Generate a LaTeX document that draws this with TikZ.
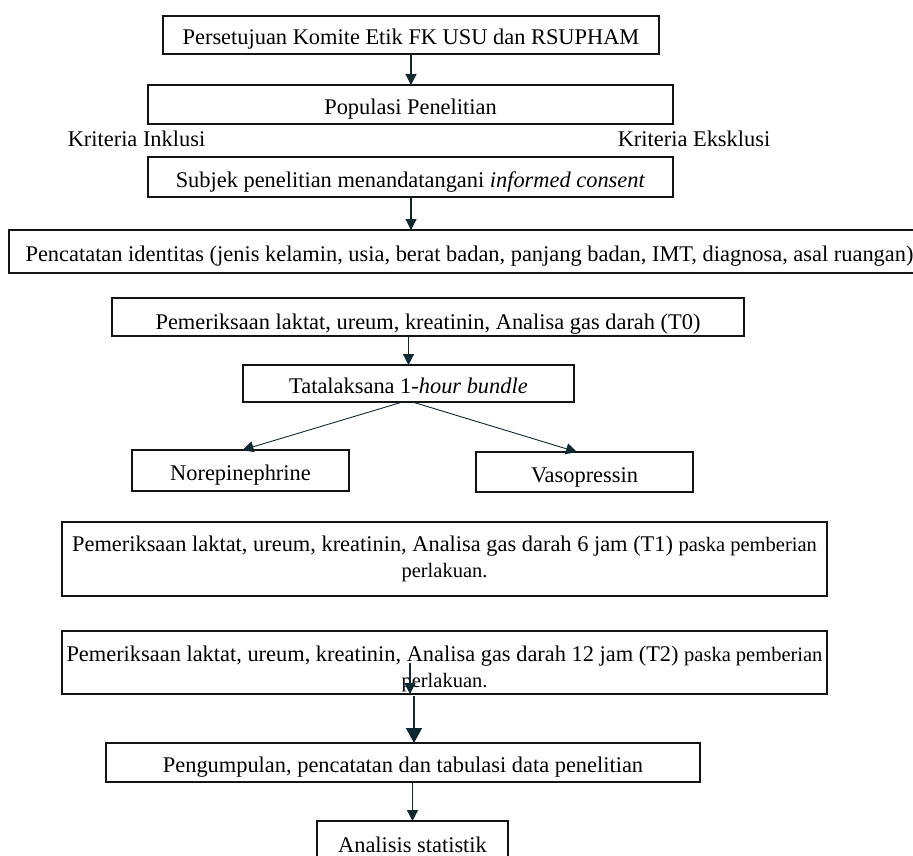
\documentclass[tikz,border=0pt]{standalone}
\usepackage{fontspec}
\setmainfont{Liberation Serif}
\usetikzlibrary{arrows.meta}
\definecolor{arrowcol}{RGB}{16,40,48}
\definecolor{boxcol}{RGB}{20,20,20}
\newcommand{\mainfs}{\fontsize{22.4}{26}\selectfont}
\newcommand{\smallfs}{\fontsize{20.5}{26}\selectfont}
\tikzset{
  box/.style={draw=boxcol, line width=1.9pt, rectangle, inner sep=0pt, outer sep=0pt, align=center, font=\mainfs},
  onebox/.style={box, text height=20pt, text depth=0pt},
  plain/.style={inner sep=0pt, font=\mainfs},
  arr/.style={draw=arrowcol, line width=1.2pt, -{Triangle[length=11pt,width=11pt]}},
  bigarr/.style={draw=arrowcol, line width=1.4pt, -{Triangle[length=15pt,width=16pt]}},
}
\begin{document}
\begin{tikzpicture}[x=1pt,y=-1pt]
\useasboundingbox (0,0) rectangle (913,856);
\fill[white] (0,0) rectangle (913,856);
\clip (0,0) rectangle (913,856);

\node[onebox, minimum width=496pt, minimum height=38pt] (b1) at (411,35) {Persetujuan Komite Etik FK USU dan RSUPHAM};
\node[onebox, minimum width=525pt, minimum height=39pt] (b2) at (410.5,104.5) {Populasi Penelitian};
\node[plain] (ki) at (136.5,139) {Kriteria Inklusi};
\node[plain] (ke) at (694,139) {Kriteria Eksklusi};
\node[onebox, minimum width=525pt, minimum height=40pt] (b3) at (410.5,177) {Subjek penelitian menandatangani \textit{informed consent}};
\node[onebox, minimum width=921pt, minimum height=43pt] (b4) at (469.5,251.5) {Pencatatan identitas (jenis kelamin, usia, berat badan, panjang badan, IMT, diagnosa, asal ruangan)};
\node[box, text height=25pt, text depth=0pt, minimum width=632pt, minimum height=38pt] (b5) at (428,317) {Pemeriksaan laktat, ureum, kreatinin, Analisa gas darah (T0)};
\node[onebox, minimum width=331pt, minimum height=37pt] (b6) at (408.5,383.5) {Tatalaksana 1-\textit{hour bundle}};
\node[onebox, minimum width=217pt, minimum height=41pt] (nore) at (240.5,470.5) {Norepinephrine};
\node[onebox, minimum width=217pt, minimum height=40pt] (vaso) at (584.5,472) {Vasopressin};
\node[box, minimum width=765pt, minimum height=74pt] (t1) at (444.5,559) {Pemeriksaan laktat, ureum, kreatinin, Analisa gas darah 6 jam (T1) {\smallfs paska pemberian}\\{\smallfs perlakuan.}};
\node[box, minimum width=765pt, minimum height=63pt] (t2) at (444.5,662.5) {};
\node[plain, align=center] (t2text) at (444.5,668.5) {Pemeriksaan laktat, ureum, kreatinin, Analisa gas darah 12 jam (T2) {\smallfs paska pemberian}\\{\smallfs perlakuan.}};
\node[onebox, minimum width=594pt, minimum height=39pt] (peng) at (403,762.5) {Pengumpulan, pencatatan dan tabulasi data penelitian};
\node[onebox, minimum width=191pt, minimum height=42pt] (anal) at (412.5,842) {Analisis statistik};

\draw[arr] (b1.south) -- (b1.south |- b2.north);
\draw[arr] (b3.south -| b1.south) -- (b1.south |- b4.north);
\draw[arr] (b6.north |- b5.south) -- (b6.north);
\draw[arr, line width=0.9pt] ([xshift=-6pt]b6.south) -- ([xshift=2pt]nore.north);
\draw[arr, line width=0.9pt] ([xshift=4pt]b6.south) -- ([xshift=-7.5pt]vaso.north);
\coordinate (c1) at (410,663);
\draw[arr] (c1) -- (c1 |- t2.south);
\coordinate (c2) at (414,696);
\draw[bigarr] (c2) -- (c2 |- peng.north);
\draw[arr] (anal.north |- peng.south) -- (anal.north);
\end{tikzpicture}
\end{document}
